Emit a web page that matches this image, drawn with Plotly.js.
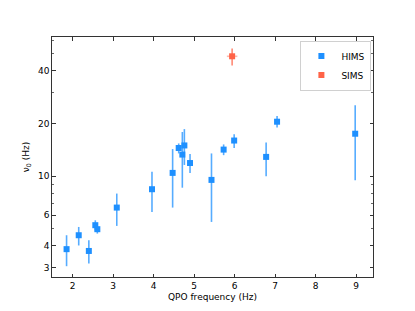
<!DOCTYPE html>
<html>
<head>
<meta charset="utf-8">
<script src="https://cdn.plot.ly/plotly-3.0.1.min.js"></script>
<style>html,body{margin:0;padding:0;background:#fff;}</style>
</head>
<body>
<div id="chart" style="width:415px;height:311px;"></div>
<script>
// HIMS data
const himsX    = [1.85, 2.15, 2.40, 2.56, 2.61, 3.09, 3.96, 4.47, 4.62, 4.71, 4.76, 4.90, 5.43, 5.73, 5.99, 6.78, 7.05, 8.98];
const himsY    = [3.83, 4.60, 3.74, 5.25, 4.98, 6.62, 8.43, 10.45, 14.5, 13.3, 15.0, 11.9, 9.53, 14.2, 16.0, 12.9, 20.5, 17.5];
const himsYup  = [4.60, 5.13, 4.30, 5.60, 5.18, 7.96, 10.6, 14.3, 15.4, 17.9, 18.6, 13.4, 13.5, 15.2, 17.4, 15.6, 22.1, 25.5];
const himsYlo  = [3.06, 4.02, 3.17, 4.90, 4.70, 5.20, 6.25, 6.62, 13.5, 8.6, 11.6, 10.45, 5.48, 13.2, 14.5, 10.0, 19.0, 9.5];
const himsXerr = [0.05, 0.05, 0.05, 0.05, 0.05, 0.05, 0.06, 0.05, 0.05, 0.04, 0.05, 0.05, 0.05, 0.05, 0.05, 0.05, 0.05, 0.05];
// SIMS data
const simsX    = [5.94];
const simsY    = [48.5];
const simsYup  = [53.7];
const simsYlo  = [43.0];
const simsXerr = [0.13];

const yTicks = [3, 4, 6, 10, 20, 40];
const yMinor = [5, 7, 8, 9, 30, 50, 60];
const xTicks = [2, 3, 4, 5, 6, 7, 8, 9];

const diff = (a, b) => a.map((v, i) => Math.abs(v - b[i]));

const hims = {
  x: himsX, y: himsY, type: 'scatter', mode: 'markers', name: 'HIMS',
  marker: {symbol: 'square', size: 6, color: '#1E90FF'},
  error_y: {type: 'data', symmetric: false, array: diff(himsYup, himsY), arrayminus: diff(himsY, himsYlo),
            color: 'rgba(30,144,255,0.75)', thickness: 1.6, width: 0},
  error_x: {type: 'data', array: himsXerr, color: 'rgba(30,144,255,0.45)', thickness: 1.6, width: 0}
};
const sims = {
  x: simsX, y: simsY, type: 'scatter', mode: 'markers', name: 'SIMS',
  marker: {symbol: 'square', size: 6, color: '#FF6347'},
  error_y: {type: 'data', symmetric: false, array: diff(simsYup, simsY), arrayminus: diff(simsY, simsYlo),
            color: 'rgba(255,99,71,0.75)', thickness: 1.6, width: 0},
  error_x: {type: 'data', array: simsXerr, color: 'rgba(255,99,71,0.45)', thickness: 1.6, width: 0}
};

const font = {family: 'DejaVu Sans, sans-serif', size: 9, color: '#000'};
const layout = {
  width: 415, height: 311,
  margin: {l: 52, r: 42, t: 37, b: 34},
  paper_bgcolor: '#fff', plot_bgcolor: '#fff',
  font: font,
  showlegend: true,
  legend: {x: 0.995, y: 0.985, xanchor: 'right', yanchor: 'top', bgcolor: 'rgba(255,255,255,0.8)',
           bordercolor: '#d0d0d0', borderwidth: 1, itemwidth: 30, tracegroupgap: 0,
           font: {family: 'DejaVu Sans, sans-serif', size: 9, color: '#000'}},
  xaxis: {
    range: [1.49, 9.42], tickmode: 'array', tickvals: xTicks, ticktext: xTicks.map(String),
    ticks: 'inside', ticklen: 3.5, tickwidth: 0.8, tickcolor: '#000',
    showline: true, linecolor: '#000', linewidth: 0.8, mirror: 'allticks',
    showgrid: false, zeroline: false,
    title: {text: 'QPO frequency (Hz)', font: font, standoff: 4}
  },
  yaxis: {
    type: 'log', range: [0.424, 1.796], tickmode: 'array', tickvals: yTicks, ticktext: yTicks.map(String),
    ticks: 'inside', ticklen: 3.5, tickwidth: 0.8, tickcolor: '#000',
    minor: {tickmode: 'array', tickvals: yMinor, ticks: 'inside', ticklen: 2, tickwidth: 0.6, tickcolor: '#000', showgrid: false},
    showline: true, linecolor: '#000', linewidth: 0.8, mirror: 'allticks',
    showgrid: false, zeroline: false,
    title: {text: 'ν<sub>0</sub> (Hz)', font: font, standoff: 6}
  }
};

Plotly.newPlot('chart', [hims, sims], layout, {displayModeBar: false, staticPlot: true});
</script>
</body>
</html>
